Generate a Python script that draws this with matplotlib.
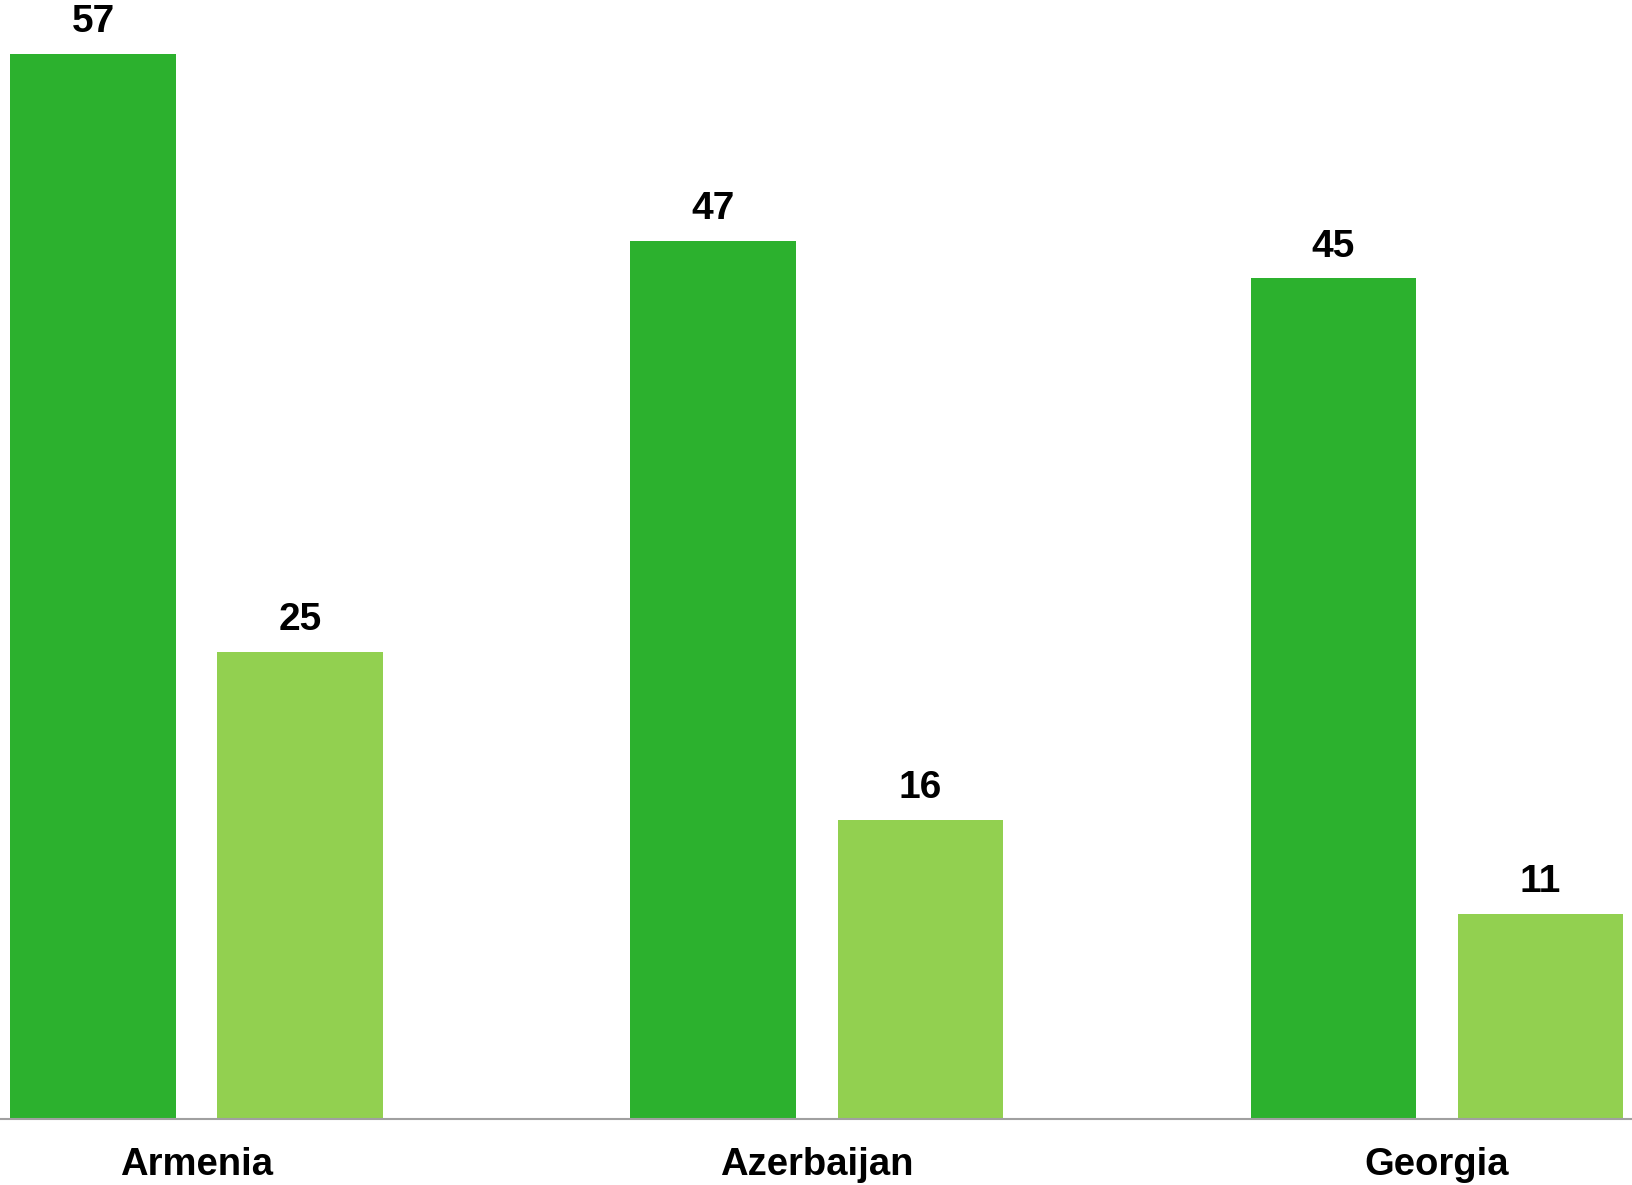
import matplotlib.pyplot as plt
import numpy as np

plt.rcParams['font.family'] = ['Liberation Sans', 'DejaVu Sans']

countries = ['Armenia', 'Azerbaijan', 'Georgia']
series_dark = [57, 47, 45]
series_light = [25, 16, 11]
colors = ['#2cb12e', '#92d050']

fig = plt.figure(figsize=(16.33, 11.85), dpi=100)
ax = fig.add_axes([0, 0.0554, 1, 0.9446])

x = np.arange(len(countries))
offset = 0.167
width = 0.267
bars1 = ax.bar(x - offset, series_dark, width, color=colors[0])
bars2 = ax.bar(x + offset, series_light, width, color=colors[1])

for bars in (bars1, bars2):
    for b in bars:
        ax.annotate(f'{b.get_height():.0f}', (b.get_x() + b.get_width() / 2, b.get_height()),
                    xytext=(0, 10), textcoords='offset points', ha='center', va='bottom',
                    fontsize=28, fontweight='bold', color='black')

ax.set_xlim(-0.317, 2.316)
ax.set_ylim(0, 59.9)
ax.set_xticks(x)
ax.set_xticklabels(countries, fontsize=27.5, fontweight='bold')
ax.tick_params(axis='x', length=0, pad=20)
ax.set_yticks([])
for s in ['top', 'left', 'right']:
    ax.spines[s].set_visible(False)
ax.spines['bottom'].set_color('#a0a0a0')
ax.spines['bottom'].set_linewidth(1.5)

fig.savefig('out.png', dpi=100)
